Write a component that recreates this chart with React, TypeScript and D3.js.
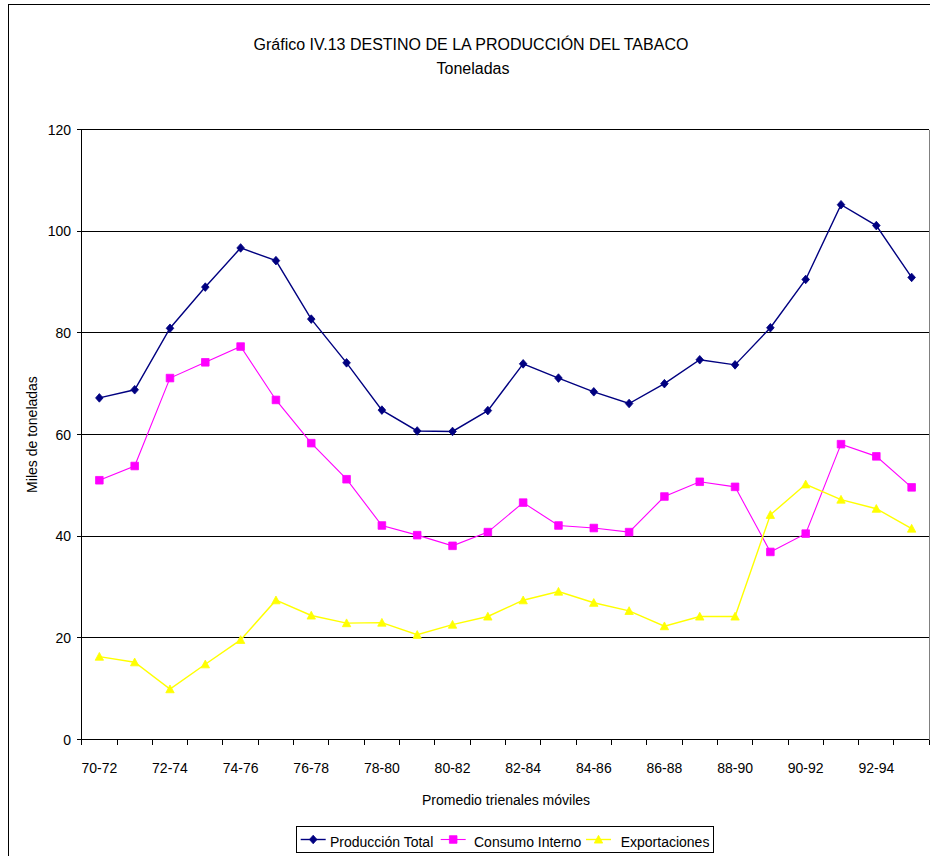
import React from "react";
import * as d3 from "d3";

const categories = [
  "70-72", "71-73", "72-74", "73-75", "74-76", "75-77", "76-78", "77-79",
  "78-80", "79-81", "80-82", "81-83", "82-84", "83-85", "84-86", "85-87",
  "86-88", "87-89", "88-90", "89-91", "90-92", "91-93", "92-94", "93-95",
];
const produccion = [67.2, 68.8, 80.9, 89.0, 96.7, 94.2, 82.7, 74.1, 64.8, 60.7, 60.6, 64.7, 73.9, 71.1, 68.4, 66.1, 70.0, 74.7, 73.7, 81.0, 90.5, 105.2, 101.1, 90.9];
const consumo = [51.0, 53.8, 71.1, 74.2, 77.3, 66.8, 58.3, 51.2, 42.1, 40.2, 38.1, 40.8, 46.6, 42.1, 41.6, 40.8, 47.8, 50.7, 49.7, 36.9, 40.5, 58.1, 55.7, 49.6];
const exportaciones = [16.3, 15.2, 9.9, 14.8, 19.6, 27.4, 24.4, 22.9, 23.0, 20.6, 22.6, 24.2, 27.4, 29.1, 26.9, 25.3, 22.3, 24.2, 24.2, 44.2, 50.2, 47.2, 45.4, 41.5];
const yTicks = [0, 20, 40, 60, 80, 100, 120];
const seriesNames = ["Producción Total", "Consumo Interno", "Exportaciones"];

const FONT = "'Liberation Sans', Arial, sans-serif";
const W = 930, H = 856;
const left = 81.7, right = 929.3, top = 129.5, bottom = 739.5;

type Shape = "diamond" | "square" | "triangle";
const series: { name: string; values: number[]; color: string; shape: Shape; width: number }[] = [
  { name: seriesNames[0], values: produccion, color: "#000080", shape: "diamond", width: 1.4 },
  { name: seriesNames[1], values: consumo, color: "#FF00FF", shape: "square", width: 1.1 },
  { name: seriesNames[2], values: exportaciones, color: "#FFFF00", shape: "triangle", width: 1.4 },
];

function markerPath(shape: Shape, cx: number, cy: number): string {
  if (shape === "diamond") {
    return `M${cx},${cy - 4.3}L${cx + 3.8},${cy}L${cx},${cy + 4.3}L${cx - 3.8},${cy}Z`;
  }
  if (shape === "square") {
    return `M${cx - 3.8},${cy - 3.8}h7.6v7.6h-7.6Z`;
  }
  return `M${cx},${cy - 4.2}L${cx + 4.2},${cy + 3.6}L${cx - 4.2},${cy + 3.6}Z`;
}

export default function App() {
  const x = d3.scaleBand<string>().domain(categories).range([left, right]);
  const y = d3.scaleLinear().domain([0, 120]).range([bottom, top]);
  const bw = x.bandwidth();
  const cx = (c: string) => (x(c) as number) + bw / 2;

  const line = (vals: number[]) =>
    d3.line<number>()
      .x((_, i) => cx(categories[i]))
      .y((v) => y(v))(vals) as string;

  const tickXs = categories.map((c) => x(c) as number).concat([right]);

  const legendItems = [
    { lx: 300.7, tx: 330 },
    { lx: 440.7, tx: 474 },
    { lx: 586, tx: 620.7 },
  ];

  return (
    <svg
      width={W}
      height={H}
      style={{ position: "absolute", left: 0, top: 0, background: "#fff" }}
      fontFamily={FONT}
    >
      <rect x={0} y={0} width={W} height={H} fill="#fff" />
      {/* outer chart border */}
      <rect x={8.5} y={4.5} width={1000} height={1000} fill="none" stroke="#000" strokeWidth={1} />

      {/* titles */}
      <text x={471} y={50} textAnchor="middle" fontSize={16} fill="#000">
        Gráfico IV.13 DESTINO DE LA PRODUCCIÓN DEL TABACO
      </text>
      <text x={473} y={74} textAnchor="middle" fontSize={16} fill="#000">
        Toneladas
      </text>

      {/* gridlines */}
      {yTicks.map((t) => (
        <line key={"g" + t} x1={left} x2={right} y1={y(t)} y2={y(t)} stroke="#000" strokeWidth={1} shapeRendering="crispEdges" />
      ))}
      {/* plot border */}
      <line x1={right} x2={right} y1={top} y2={bottom} stroke="#808080" strokeWidth={1} shapeRendering="crispEdges" />
      <line x1={left} x2={left} y1={top} y2={bottom} stroke="#000" strokeWidth={1} shapeRendering="crispEdges" />
      <line x1={left} x2={right} y1={bottom} y2={bottom} stroke="#000" strokeWidth={1} shapeRendering="crispEdges" />

      {/* y ticks and labels */}
      {yTicks.map((t) => (
        <g key={"yt" + t}>
          <line x1={left - 5} x2={left} y1={y(t)} y2={y(t)} stroke="#000" strokeWidth={1} shapeRendering="crispEdges" />
          <text x={71} y={y(t) + 5} textAnchor="end" fontSize={14} fill="#000">
            {t}
          </text>
        </g>
      ))}

      {/* x ticks and labels */}
      {tickXs.map((tx, i) => (
        <line key={"xt" + i} x1={tx} x2={tx} y1={bottom} y2={bottom + 5} stroke="#000" strokeWidth={1} shapeRendering="crispEdges" />
      ))}
      {categories.map((c, i) =>
        i % 2 === 0 ? (
          <text key={"xl" + c} x={cx(c)} y={773} textAnchor="middle" fontSize={14} fill="#000">
            {c}
          </text>
        ) : null
      )}

      {/* axis titles */}
      <text x={506} y={805} textAnchor="middle" fontSize={14} fill="#000">
        Promedio trienales móviles
      </text>
      <text transform={`translate(37,${(top + bottom) / 2}) rotate(-90)`} textAnchor="middle" fontSize={14} fill="#000">
        Miles de toneladas
      </text>

      {/* series */}
      {series.map((s) => (
        <g key={s.name}>
          <path d={line(s.values)} fill="none" stroke={s.color} strokeWidth={s.width} />
          {s.values.map((v, i) => (
            <path key={i} d={markerPath(s.shape, cx(categories[i]), y(v))} fill={s.color} stroke={s.color} strokeWidth={0.8} />
          ))}
        </g>
      ))}

      {/* legend */}
      <rect x={296.5} y={826.5} width={417} height={26} fill="#fff" stroke="#000" strokeWidth={1} />
      {series.map((s, i) => {
        const it = legendItems[i];
        const ly = 839.5;
        return (
          <g key={"lg" + s.name}>
            <line x1={it.lx} x2={it.lx + 25} y1={ly} y2={ly} stroke={s.color} strokeWidth={s.width} />
            <path d={markerPath(s.shape, it.lx + 12.5, ly)} fill={s.color} stroke={s.color} strokeWidth={0.8} />
            <text x={it.tx} y={846.5} fontSize={14} fill="#000">
              {s.name}
            </text>
          </g>
        );
      })}
    </svg>
  );
}
